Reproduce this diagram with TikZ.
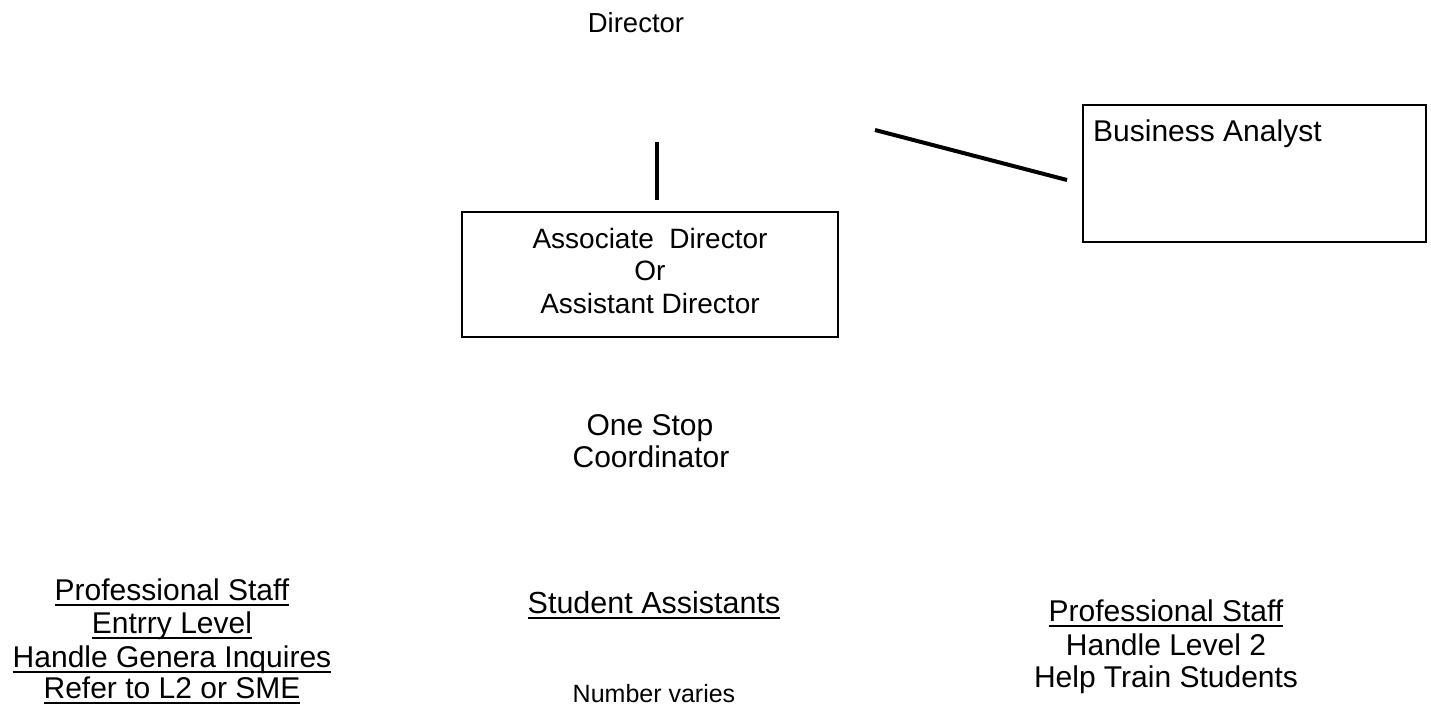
\documentclass[tikz,border=0pt]{standalone}
\usepackage{fontspec}
\setmainfont{Liberation Sans}
\newcommand\ulx[1]{\setbox0\hbox{#1}\rlap{\rule[-6pt]{\wd0}{2pt}}\box0}
\begin{document}
\begin{tikzpicture}[x=1pt,y=-1pt,
  txt/.style={inner sep=0pt, anchor=base, font=\fontsize{30}{33}\selectfont},
  boxx/.style={draw, line width=1.8pt, inner sep=0pt},
  conn/.style={line width=4.5pt}]
\useasboundingbox (0,0) rectangle (1431,711);
% top
\node[txt, font=\fontsize{27.5}{30}\selectfont] (dir) at (636,33) {Director};
\coordinate (vtop) at (657,142);
\coordinate (vbot) at (657,200);
\draw[conn] (vtop) -- (vbot);
% associate box
\node[boxx, minimum width=376pt, minimum height=125pt, align=center,
      text depth=8pt,
      font=\fontsize{28}{32.5}\selectfont] (assoc) at (650,274.5)
      {Associate\ \ Director\\Or\\Assistant Director};
% business analyst
\node[boxx, minimum width=343pt, minimum height=137pt] (ba) at (1254.5,173.5) {};
\node[txt, anchor=base west] (batxt) at (1093,142) {Business Analyst};
\coordinate (dstart) at (875,130);
\coordinate (dend) at (1067,180);
\draw[conn, line width=4pt] (dstart) -- (dend);
% one stop
\node[txt] (os1) at (650,435) {One Stop};
\node[txt] (os2) at (651,467) {Coordinator};
% left block
\node[txt] (l1) at (172,600) {\ulx{Professional Staff}};
\node[txt] (l2) at (172,633) {\ulx{Entrry Level}};
\node[txt] (l3) at (172,667) {\ulx{Handle Genera Inquires}};
\node[txt] (l4) at (172,698) {\ulx{Refer to L2 or SME}};
% middle
\node[txt, font=\fontsize{30.5}{33}\selectfont] (sa) at (654,613) {\ulx{Student Assistants}};
\node[txt, font=\fontsize{25}{28}\selectfont] (nv) at (654,702) {Number varies};
% right block
\node[txt] (r1) at (1166,621) {\ulx{Professional Staff}};
\node[txt] (r2) at (1166,655) {Handle Level 2};
\node[txt] (r3) at (1166,687) {Help Train Students};
\end{tikzpicture}
\end{document}
